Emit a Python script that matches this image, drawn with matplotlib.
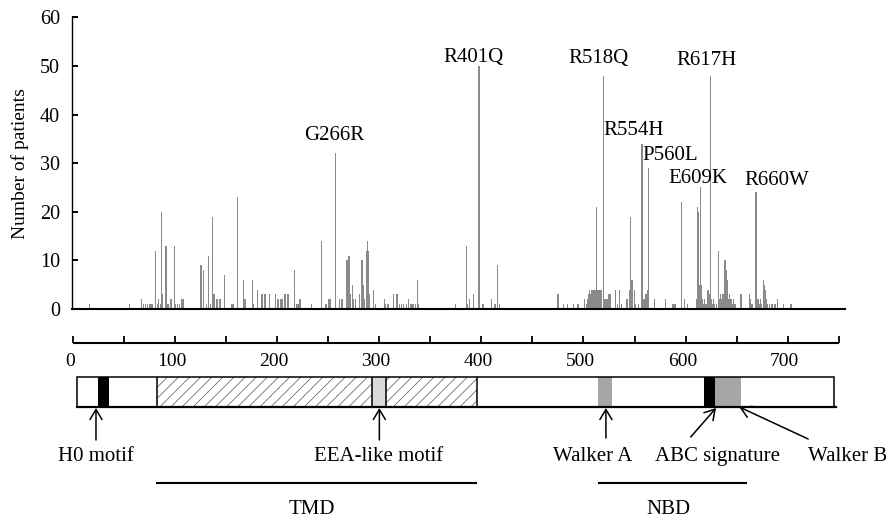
import numpy as np
import matplotlib
matplotlib.use("Agg")
import matplotlib.pyplot as plt
from matplotlib.patches import Rectangle

plt.rcParams['font.family'] = ['Liberation Serif', 'DejaVu Serif']
plt.rcParams['font.size'] = 14.5
plt.rcParams['hatch.linewidth'] = 0.5

# residue position -> number of patients
positions = [35, 73, 84, 86, 88, 90, 92, 94, 97, 99, 100, 102, 103, 104, 107, 109,
             111, 112, 115, 116, 118, 120, 122, 123, 140, 142, 145, 147, 149, 151,
             152, 155, 157, 158, 162, 169, 170, 174, 180, 181, 182, 188, 189, 193,
             197, 198, 200, 204, 210, 212, 213, 215, 216, 218, 219, 221, 222, 228,
             230, 231, 233, 244, 253, 257, 258, 260, 261, 266, 270, 272, 273, 277,
             279, 280, 282, 283, 285, 289, 291, 292, 293, 295, 296, 297, 298, 302,
             304, 312, 313, 315, 316, 321, 324, 326, 328, 330, 333, 335, 337, 339,
             341, 343, 344, 379, 389, 390, 392, 396, 401, 404, 405, 413, 416, 418,
             420, 475, 480, 484, 490, 494, 500, 502, 503, 504, 505, 506, 507, 508,
             509, 510, 511, 512, 513, 514, 515, 516, 518, 519, 520, 521, 522, 523,
             524, 529, 531, 533, 535, 540, 542, 543, 544, 545, 547, 548, 551, 554,
             555, 556, 557, 558, 559, 560, 566, 576, 583, 585, 591, 594, 597, 605,
             606, 607, 608, 609, 610, 611, 612, 613, 614, 616, 617, 618, 619, 620,
             621, 622, 624, 626, 627, 628, 629, 630, 631, 632, 633, 634, 635, 636,
             637, 638, 639, 640, 641, 642, 647, 655, 656, 657, 658, 661, 662, 663,
             664, 665, 666, 668, 669, 670, 671, 672, 674, 676, 679, 681, 687, 694]
patients = [1, 1, 2, 1, 1, 1, 1, 1, 12, 1, 2, 1, 20, 3, 13, 1,
            2, 2, 13, 1, 1, 1, 2, 2, 9, 8, 1, 11, 1, 19,
            3, 2, 2, 2, 7, 1, 1, 23, 6, 2, 2, 6, 1, 4,
            3, 3, 3, 3, 3, 2, 2, 2, 2, 3, 3, 3, 3, 8,
            1, 1, 2, 1, 14, 1, 1, 2, 2, 32, 2, 2, 2, 10,
            11, 3, 5, 2, 2, 3, 10, 5, 2, 12, 14, 12, 3, 4,
            1, 2, 1, 1, 1, 3, 3, 1, 1, 1, 1, 2, 1, 1,
            1, 6, 1, 1, 13, 1, 2, 3, 50, 1, 1, 2, 1, 9,
            1, 3, 1, 1, 1, 1, 2, 1, 2, 3, 4, 3, 4, 4,
            4, 4, 21, 4, 4, 4, 4, 4, 48, 2, 2, 2, 2, 3,
            3, 4, 1, 4, 1, 2, 4, 19, 6, 6, 4, 1, 1, 34,
            2, 2, 3, 3, 4, 29, 2, 2, 1, 1, 22, 2, 1, 2,
            21, 20, 5, 25, 5, 2, 1, 2, 1, 4, 3, 48, 2, 1,
            2, 1, 1, 12, 2, 3, 2, 3, 2, 10, 8, 6, 2, 3,
            2, 2, 1, 2, 1, 1, 3, 3, 2, 1, 1, 24, 1, 2,
            1, 2, 1, 6, 5, 4, 2, 1, 1, 1, 1, 2, 1, 1]

mutation_names = ['G266R', 'R401Q', 'R518Q', 'R554H', 'P560L', 'E609K', 'R617H', 'R660W']
label_x = [264.8, 396.2, 513.6, 546.5, 580.3, 606.6, 615.0, 680.3]
label_y = [35.6, 51.8, 51.6, 36.8, 31.5, 26.9, 51.2, 26.5]

# protein map (ruler units)
protein_start, protein_end = 4, 745
segment_start = [25, 83, 293, 514, 618, 629]
segment_end = [36, 396, 307, 528, 629, 654]
segment_color = ['black', 'white', '#d9d9d9', '#a6a6a6', 'black', '#a6a6a6']
segment_hatch = [None, '///', None, None, None, None]

motif_names = ['H0 motif', 'EEA-like motif', 'Walker A', 'ABC signature', 'Walker B']
motif_text_x = [22.8, 299.0, 508.9, 631.2, 720.0]
motif_arrow_tail = [(22.8, 440), (300.2, 440), (522.0, 438), (605.0, 437), (720.0, 439)]
motif_arrow_head = [(22.8, 408), (300.2, 408), (522.0, 408), (629.8, 408), (652.6, 407)]

domain_names = ['TMD', 'NBD']
domain_start = [81.5, 514.5]
domain_end = [395.5, 659.8]

fig = plt.figure(figsize=(8.87, 5.19), dpi=100)

# ---- top: number of patients per residue ----
ax = fig.add_axes([72 / 887, 1 - 309 / 519, (845 - 72) / 887, (309 - 17.3) / 519])
ax.bar(positions, patients, width=1.2, color='#8a8a8a', linewidth=0)
ax.set_xlim(18.8, 744.6)
ax.set_ylim(0, 60)
ax.set_yticks(range(0, 61, 10))
ax.set_xticks([])
ax.tick_params(axis='y', direction='in', length=4.3, width=1.4, pad=8.5)
for s in ['top', 'right']:
    ax.spines[s].set_visible(False)
ax.spines['left'].set_linewidth(1.0)
ax.spines['bottom'].set_linewidth(1.5)
ax.set_ylabel('Number of patients', fontsize=14)
ax.yaxis.set_label_coords(-0.056, 0.5)
for name, x, y in zip(mutation_names, label_x, label_y):
    ax.text(x, y, name, ha='center', va='center', fontsize=15)

# ---- bottom: ruler and protein domain map (y in pixels) ----
ax2 = fig.add_axes([0, 0, 1, 1])
ax2.set_xlim(-72.7 / 1.0215, (887 - 72.7) / 1.0215)
ax2.set_ylim(519, 0)
ax2.axis('off')
ax2.patch.set_alpha(0)

ruler_ticks = np.arange(0, 751, 50)
ax2.plot([0, 750], [343, 343], color='black', lw=1.5, solid_capstyle='butt')
ax2.vlines(ruler_ticks, 336, 343, color='black', lw=1.3)
for t in range(0, 701, 100):
    ax2.text(t - 3, 362, str(t), ha='center', va='center', fontsize=14)

for s, e, c, h in zip(segment_start, segment_end, segment_color, segment_hatch):
    if h:
        ax2.add_patch(Rectangle((s, 376.7), e - s, 30, facecolor=c, edgecolor='#555555',
                                hatch=h, lw=0))
    else:
        ax2.add_patch(Rectangle((s, 376.7), e - s, 30, facecolor=c, edgecolor='none', lw=0,
                                zorder=3))
ax2.add_patch(Rectangle((protein_start, 376.7), protein_end - protein_start, 30,
                        facecolor='none', edgecolor='black', lw=1.1, zorder=4))
ax2.plot([protein_start, protein_end + 2], [406.7, 406.7], color='black', lw=1.6, zorder=4)
ax2.vlines([83, 293, 307, 396], 376.7, 406.7, color='black', lw=1.1, zorder=4)

for name, tx, tail, head in zip(motif_names, motif_text_x, motif_arrow_tail, motif_arrow_head):
    ax2.annotate('', xy=head, xytext=tail,
                 arrowprops=dict(arrowstyle='->,head_length=0.5,head_width=0.3',
                                 lw=1.1, color='black', shrinkA=0, shrinkB=0))
    ha = 'left' if name == 'Walker B' else 'center'
    ax2.text(tx, 456.7, name, ha=ha, va='center', fontsize=15)

for name, s, e in zip(domain_names, domain_start, domain_end):
    ax2.plot([s, e], [482.7, 482.7], color='black', lw=1.5, solid_capstyle='butt')
    ax2.text((s + e) / 2 - 4, 510, name, ha='center', va='center', fontsize=15)

fig.savefig('out.png', dpi=100)
